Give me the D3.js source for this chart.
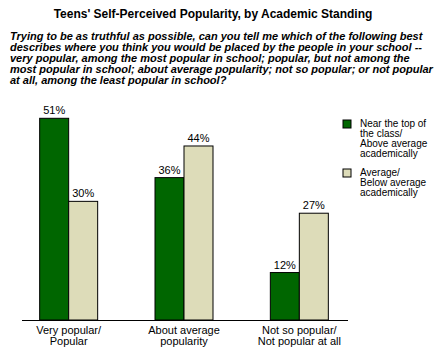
<!DOCTYPE html>
<html>
<head>
<meta charset="utf-8">
<script src="https://cdn.jsdelivr.net/npm/d3@7"></script>
<style>
  body { margin: 0; background: #fff; }
  text { font-family: "Liberation Sans", Arial, sans-serif; }
</style>
</head>
<body>
<div id="chart"></div>
<script>
// chart data
const categories = [["Very popular/", "Popular"], ["About average", "popularity"], ["Not so popular/", "Not popular at all"]];
const seriesNames = [["Near the top of", "the class/", "Above average", "academically"], ["Average/", "Below average", "academically"]];
const topClass = [51, 36, 12];
const belowAvg = [30, 44, 27];
const colors = ["#006600", "#dddcb9"];

const title = "Teens' Self-Perceived Popularity, by Academic Standing";
const question = [
    "Trying to be as truthful as possible, can you tell me which of the following best",
    "describes where you think you would be placed by the people in your school --",
    "very popular, among the most popular in school; popular, but not among the",
    "most popular in school; about average popularity; not so popular; or not popular",
    "at all, among the least popular in school?"
];

const W = 440, H = 352;
const svg = d3.select("#chart").append("svg")
    .attr("width", W)
    .attr("height", H);

// title + question
svg.append("text")
    .attr("x", 213)
    .attr("y", 18)
    .attr("text-anchor", "middle")
    .style("font-size", "12px")
    .style("font-weight", "bold")
    .text(title);

svg.append("g").selectAll("text")
    .data(question)
    .enter()
    .append("text")
    .attr("x", 10)
    .attr("y", (d, i) => 40 + i * 11)
    .style("font-size", "11px")
    .style("font-weight", "bold")
    .style("font-style", "italic")
    .text(d => d);

// scales
const baseline = 320;
const x = d3.scaleBand().domain(d3.range(categories.length)).range([11, 357]);
const barW = 29;
const y = d3.scaleLinear().domain([0, 51]).range([baseline, 118.3]);

const rows = categories.map((c, i) => [topClass[i], belowAvg[i]]);

const groups = svg.append("g").selectAll("g")
    .data(rows)
    .enter()
    .append("g")
    .attr("transform", (d, i) => `translate(${x(i) + x.bandwidth() / 2},0)`);

groups.selectAll("rect")
    .data(d => d)
    .enter()
    .append("rect")
    .attr("x", (d, j) => (j - 1) * barW)
    .attr("y", d => y(d))
    .attr("width", barW)
    .attr("height", d => baseline - y(d))
    .attr("fill", (d, j) => colors[j])
    .attr("stroke", "#000")
    .attr("stroke-width", 1);

groups.selectAll("text.val")
    .data(d => d)
    .enter()
    .append("text")
    .attr("class", "val")
    .attr("x", (d, j) => (j - 0.5) * barW)
    .attr("y", d => y(d) - 4)
    .attr("text-anchor", "middle")
    .style("font-size", "11px")
    .text(d => d + "%");

// baseline axis
svg.append("line")
    .attr("x1", 22).attr("x2", 348)
    .attr("y1", baseline + 0.5).attr("y2", baseline + 0.5)
    .attr("stroke", "#000")
    .attr("stroke-width", 1);

// category labels
groups.each(function (d, i) {
    d3.select(this).selectAll("text.cat")
        .data(categories[i])
        .enter()
        .append("text")
        .attr("class", "cat")
        .attr("x", 0)
        .attr("y", (t, k) => 334 + k * 11)
        .attr("text-anchor", "middle")
        .style("font-size", "11px")
        .text(t => t);
});

// legend
const legendY = [120, 169];
const legend = svg.append("g");
seriesNames.forEach((lines, i) => {
    legend.append("rect")
        .attr("x", 343)
        .attr("y", legendY[i])
        .attr("width", 8)
        .attr("height", 8)
        .attr("fill", colors[i])
        .attr("stroke", "#000");
    lines.forEach((t, k) => {
        legend.append("text")
            .attr("x", 360)
            .attr("y", legendY[i] + 7 + k * 10)
            .style("font-size", "10px")
            .text(t);
    });
});
</script>
</body>
</html>
